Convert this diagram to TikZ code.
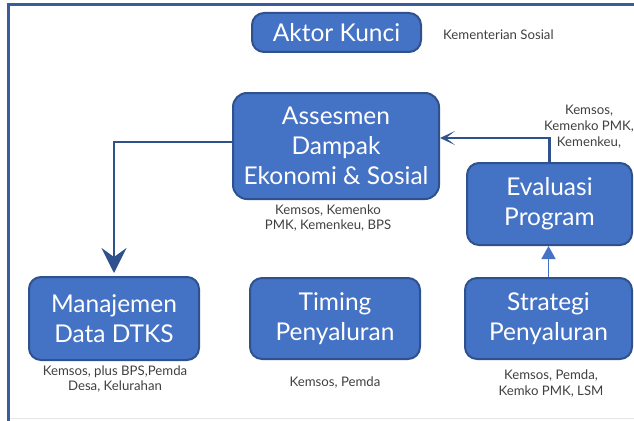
\documentclass[tikz,border=0pt]{standalone}
\usepackage{fontspec}
\setmainfont{Lato}
\usetikzlibrary{arrows.meta}
\definecolor{boxfill}{HTML}{4472C4}
\definecolor{boxline}{HTML}{2F528F}
\definecolor{framec}{HTML}{3A5C9C}
\definecolor{capc}{HTML}{404040}
\tikzset{
  blockbox/.style={draw=boxline, fill=boxfill, line width=2pt, rounded corners=12pt,
    text=white, align=center, inner sep=0pt, font=\fontsize{24.5}{30}\selectfont},
  captxt/.style={text=capc, align=center, inner sep=0pt, font=\fontsize{13.2}{15}\selectfont},
  conn/.style={draw=boxline, line width=2.5pt},
}
\begin{document}
\begin{tikzpicture}[x=1pt,y=-1pt]
\useasboundingbox (0,0) rectangle (634,420);
\clip (0,0) rectangle (634,420);
% frame
\draw[framec, line width=3pt] (8,422) -- (8,5) -- (640,5);
\draw[gray!20, line width=1.5pt] (10,418.5) -- (640,418.5);
% boxes
\node[blockbox, minimum width=169pt, minimum height=39pt] (aktor) at (336.5,32.5) {Aktor Kunci};
\node[blockbox, minimum width=206pt, minimum height=106pt, rounded corners=14pt] (assess) at (336,146) {Assesmen\\Dampak\\Ekonomi \& Sosial};
\node[blockbox, minimum width=165pt, minimum height=82pt] (eval) at (549.5,204) {Evaluasi\\Program};
\node[blockbox, minimum width=170pt, minimum height=83pt] (manaj) at (114,318.5) {Manajemen\\Data DTKS};
\node[blockbox, minimum width=170pt, minimum height=81pt] (timing) at (335,318.5) {Timing\\Penyaluran};
\node[blockbox, minimum width=167pt, minimum height=81pt] (strat) at (548.5,318.5) {Strategi\\Penyaluran};
% captions
\node[captxt, anchor=west] (capaktor) at (443,35) {Kementerian Sosial};
\node[captxt] (capassess) at (328,218.5) {Kemsos, Kemenko\\PMK, Kemenkeu, BPS};
\node[captxt, font=\fontsize{13.2}{16}\selectfont] (capeval) at (589,127) {Kemsos,\\Kemenko PMK,\\Kemenkeu,};
\node[captxt] (capmanaj) at (115,379.5) {Kemsos, plus BPS,Pemda\\Desa, Kelurahan};
\node[captxt] (captiming) at (335,383) {Kemsos, Pemda};
\node[captxt, font=\fontsize{13.2}{16}\selectfont] (capstrat) at (551,384) {Kemsos, Pemda,\\Kemko PMK, LSM};
% connectors
\draw[conn, -{Stealth[length=25pt, width=25pt, inset=9pt]}, shorten >=3pt]
  ([yshift=4pt]assess.west) -| (manaj.north);
\draw[conn, -{Stealth[length=15pt, width=14pt, inset=9pt]}]
  (eval.north) |- ([yshift=8pt]assess.east);
\draw[boxfill, line width=1.5pt, -{Triangle[length=13pt, width=14pt]}]
  (strat.north) -- (strat.north |- eval.south);
\end{tikzpicture}
\end{document}
